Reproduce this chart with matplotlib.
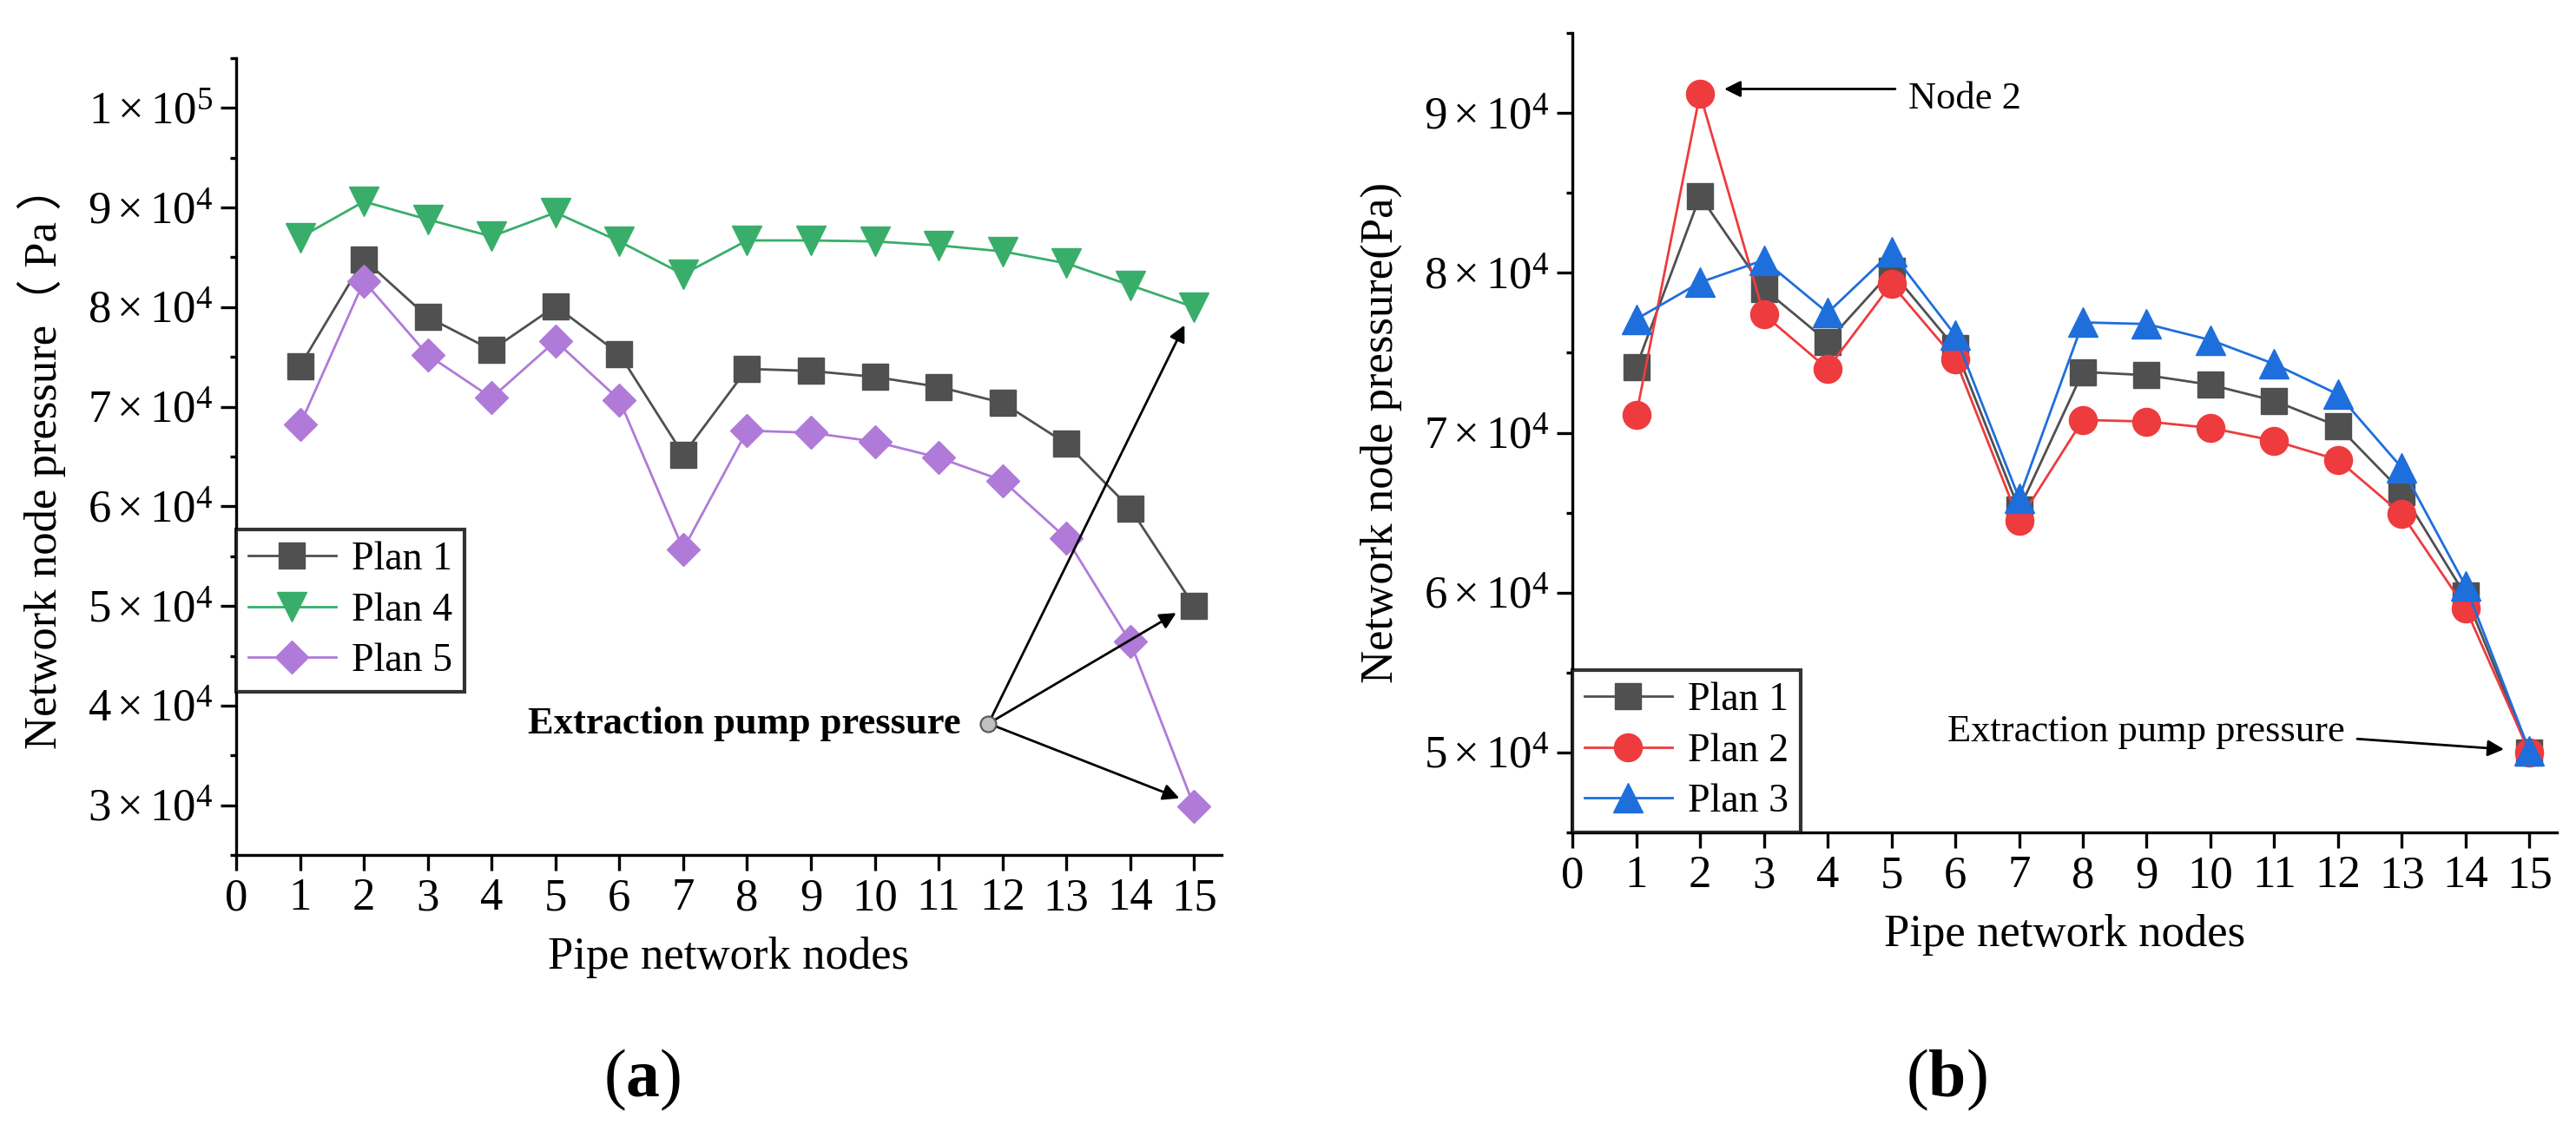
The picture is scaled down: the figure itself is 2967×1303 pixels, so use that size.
"""Network node pressure per pipe node, two panels (a) plans 1/4/5, (b) plans 1/2/3."""
import matplotlib
matplotlib.use("Agg")
import matplotlib.pyplot as plt
from matplotlib.ticker import FixedLocator, FuncFormatter, MultipleLocator

plt.rcParams["font.family"] = ["Liberation Serif", "Noto Sans CJK SC", "DejaVu Sans"]
plt.rcParams["mathtext.fontset"] = "custom"
plt.rcParams["mathtext.rm"] = "Liberation Serif"
plt.rcParams["mathtext.it"] = "Liberation Serif:italic"
plt.rcParams["mathtext.bf"] = "Liberation Serif:bold"

# --- data ---
nodes = list(range(1, 16))
plan1 = [74.1, 84.8, 79.0, 75.7, 80.1, 75.3, 65.2, 73.8, 73.6, 73.0, 72.0, 70.4, 66.3, 59.8, 50.0]
plan2 = [71.1, 91.2, 77.4, 74.0, 79.3, 74.6, 64.5, 70.8, 70.7, 70.3, 69.5, 68.3, 64.9, 59.0, 50.0]
plan3 = [77.1, 79.4, 80.8, 77.5, 81.3, 76.1, 65.9, 76.9, 76.8, 75.8, 74.3, 72.4, 67.8, 60.4, 50.1]
plan4 = [87.0, 90.6, 88.8, 87.1, 89.5, 86.6, 83.3, 86.7, 86.7, 86.6, 86.2, 85.6, 84.4, 82.2, 80.0]
plan5 = [68.2, 82.6, 75.2, 70.9, 76.6, 70.7, 55.7, 67.6, 67.4, 66.5, 64.9, 62.6, 56.8, 46.4, 29.9]
to_pa = lambda v: [x * 1000 for x in v]

C_GRAY = "#505050"
C_GREEN = "#38ae6a"
C_PURPLE = "#b07ad9"
C_RED = "#ee3b3e"
C_BLUE = "#1e6edc"

TICK_FS = 38
LAB_FS = 38
LEG_FS = 33
MS = 22
LW = 2.0


def sci(v, _):
    if v <= 0:
        return ""
    e = 0
    m = v
    while m >= 10:
        m /= 10
        e += 1
    return r"$%d\times10^{%d}$" % (round(m), e)


def style(ax, ylo, yhi, ymajor):
    ax.set_xlim(0, 15.43)
    ax.set_ylim(ylo, yhi)
    for s in ("top", "right"):
        ax.spines[s].set_visible(False)
    for s in ("left", "bottom"):
        ax.spines[s].set_linewidth(2.4)
    ax.xaxis.set_major_locator(FixedLocator(range(0, 16)))
    ax.yaxis.set_major_locator(MultipleLocator(ymajor))
    ax.yaxis.set_minor_locator(MultipleLocator(ymajor / 2))
    ax.yaxis.set_major_formatter(FuncFormatter(sci))
    ax.tick_params(axis="both", which="major", direction="out", length=13, width=2.4,
                   labelsize=TICK_FS, pad=6)
    ax.tick_params(axis="y", which="minor", direction="out", length=5, width=2.4)
    ax.tick_params(axis="x", which="minor", bottom=False)
    ax.set_xlabel("Pipe network nodes", fontsize=LAB_FS, labelpad=14)


def legend(ax):
    leg = ax.legend(loc="lower left", fontsize=LEG_FS, frameon=True, fancybox=False,
                    edgecolor="black", handlelength=2.2, handletextpad=0.4,
                    borderpad=0.3, labelspacing=0.35, borderaxespad=0.0)
    leg.get_frame().set_linewidth(3.0)
    return leg


def arrow(ax, src, tgt):
    ax.annotate("", xy=tgt, xytext=src,
                arrowprops=dict(arrowstyle="-|>", color="black", lw=2.0,
                                mutation_scale=28, shrinkA=0, shrinkB=0), zorder=4)


fig = plt.figure(figsize=(29.67, 13.03), dpi=100)

# ---------------- (a) ----------------
axa = fig.add_axes([0.0917, 0.244, 0.3825, 0.7046])
axa.plot(nodes, to_pa(plan1), "-", color=C_GRAY, lw=LW, marker="s", ms=MS * 0.95,
         label="Plan 1", zorder=3)
axa.plot(nodes, to_pa(plan4), "-", color=C_GREEN, lw=LW, marker="v", ms=MS * 1.1,
         label="Plan 4", zorder=3)
axa.plot(nodes, to_pa(plan5), "-", color=C_PURPLE, lw=LW, marker="D", ms=MS * 0.9,
         label="Plan 5", zorder=3)
style(axa, 25000, 105000, 10000)
axa.set_ylabel("Network node pressure（ Pa ）", fontsize=LAB_FS, labelpad=18)
lega = legend(axa)
lega.set_bbox_to_anchor((0.0, 0.205), transform=axa.transAxes)

src = (11.78, 38200)
axa.plot([src[0]], [src[1]], "o", ms=13, color="#c0c0c0", mec="#555555", mew=1.5, zorder=5)
for tgt in [(14.85, 78200), (14.72, 49300), (14.77, 30700)]:
    arrow(axa, src, tgt)
axa.text(11.35, 38200, "Extraction pump pressure", fontsize=32, fontweight="bold",
         ha="right", va="center")

# ---------------- (b) ----------------
axb = fig.add_axes([0.6104, 0.264, 0.3822, 0.7068])
axb.plot(nodes, to_pa(plan1), "-", color=C_GRAY, lw=LW, marker="s", ms=MS * 0.95,
         label="Plan 1", zorder=3)
axb.plot(nodes, to_pa(plan2), "-", color=C_RED, lw=LW, marker="o", ms=MS * 1.05,
         label="Plan 2", zorder=3)
axb.plot(nodes, to_pa(plan3), "-", color=C_BLUE, lw=LW, marker="^", ms=MS * 1.1,
         label="Plan 3", zorder=3)
style(axb, 45000, 95000, 10000)
axb.set_ylabel("Network node pressure(Pa)", fontsize=LAB_FS, labelpad=18)
legend(axb)

arrow(axb, (5.06, 91500), (2.38, 91500))
axb.text(5.27, 90900, "Node 2", fontsize=32, ha="left", va="center")
arrow(axb, (12.3, 50850), (14.6, 50200))
axb.text(12.1, 51300, "Extraction pump pressure", fontsize=32, ha="right", va="center")

# panel letters
fig.text(0.2494, 0.045, r"($\mathbf{a}$)", fontsize=56, ha="center", va="center")
fig.text(0.7557, 0.045, r"($\mathbf{b}$)", fontsize=56, ha="center", va="center")

fig.savefig("out.png", dpi=100)
